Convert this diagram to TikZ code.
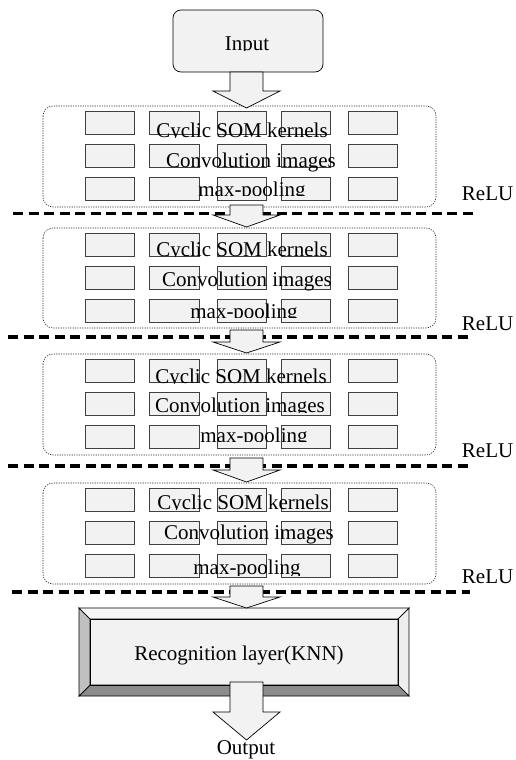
\documentclass[tikz,border=0pt]{standalone}
\usepackage{fontspec}
\setmainfont{Liberation Serif}
\definecolor{lg}{HTML}{F2F2F2}
\definecolor{bevtop}{HTML}{F7F7F7}
\definecolor{bevright}{HTML}{EEEEEE}
\definecolor{bevbot}{HTML}{8C8C8C}
\definecolor{bevleft}{HTML}{C0C0C0}
\tikzset{
  cell/.style={draw=black!75, fill=lg, line width=0.8pt},
  layerbox/.style={draw=black!85, line width=0.6pt, dash pattern=on 1.2pt off 1.2pt, rounded corners=10pt},
  relusep/.style={line width=3.3pt, dash pattern=on 10pt off 5.5pt},
  barrow/.style={draw=black, fill=lg, line width=0.7pt, line join=miter},
  lbl/.style={font=\fontsize{21}{25}\selectfont, inner sep=0pt, anchor=base},
  bev/.style={draw=black, line width=0.7pt, line join=miter},
}
\newcommand\cellrow[1]{%
  \foreach \xa/\xb in {85/134,149/199,217/266,281/330,348/397}{
    \draw[cell] (\xa,#1) rectangle (\xb,#1+23);
  }}
\newcommand\cellblock[1]{\cellrow{#1+5.5}\cellrow{#1+38.5}\cellrow{#1+71.5}}
\newcommand\barr[3]{%
  \draw[barrow] (230,#1) -- (263,#1) -- (263,#2) -- (280,#2) -- (246.5,#3) -- (213,#2) -- (230,#2) -- cycle;}
\newcommand\cliplbl[5]{% name, x, baseline, clip y, text
  \begin{scope}
    \clip (0,0) rectangle (515,#4);
    \node[lbl] (#1) at (#2,#3) {#5};
  \end{scope}}
\begin{document}
\begin{tikzpicture}[x=1pt,y=-1pt]
\useasboundingbox (0,0) rectangle (515,760);

% Input
\draw[draw=black, fill=lg, line width=0.7pt, rounded corners=8pt] (173,10) rectangle (323,72);
\cliplbl{inp}{247}{51}{51}{Input}

% layer boxes
\draw[layerbox] (43,106) rectangle (436,207);
\draw[layerbox] (43,228) rectangle (436,328);
\draw[layerbox] (43,354) rectangle (436,455);
\draw[layerbox] (43,483) rectangle (436,584);

\cellblock{106}
\cellblock{228}
\cellblock{354}
\cellblock{483}

% block 1 texts
\cliplbl{k1}{242}{137}{137}{Cyclic SOM kernels}
\cliplbl{c1}{251}{167}{760}{Convolution images}
\cliplbl{m1}{252}{196}{195}{max-pooling}
% block 2
\cliplbl{k2}{242}{256}{256}{Cyclic SOM kernels}
\cliplbl{c2}{247}{286}{760}{Convolution images}
\cliplbl{m2}{244}{318}{317}{max-pooling}
% block 3
\cliplbl{k3}{241}{383}{383}{Cyclic SOM kernels}
\cliplbl{c3}{240}{412}{412}{Convolution images}
\cliplbl{m3}{254}{442}{441}{max-pooling}
% block 4
\cliplbl{k4}{243}{509}{509}{Cyclic SOM kernels}
\cliplbl{c4}{249}{539}{760}{Convolution images}
\cliplbl{m4}{247}{574}{575}{max-pooling}

% ReLU labels
\node[lbl, anchor=base east] (r1) at (513.5,200) {ReLU};
\node[lbl, anchor=base east] (r2) at (513.5,330) {ReLU};
\node[lbl, anchor=base east] (r3) at (513.5,457) {ReLU};
\node[lbl, anchor=base east] (r4) at (513.5,583) {ReLU};

% separators
\draw[relusep] (13,213.5) -- (473,213.5);
\draw[relusep] (8,337) -- (468,337);
\draw[relusep] (8,466) -- (468,466);
\draw[relusep] (12,592) -- (470,592);

% recognition layer
\fill[lg] (90,619) rectangle (398,685);
\filldraw[bev, fill=bevtop] (79,608) -- (409,608) -- (398,619) -- (90,619) -- cycle;
\filldraw[bev, fill=bevright] (409,608) -- (409,696) -- (398,685) -- (398,619) -- cycle;
\filldraw[bev, fill=bevbot] (79,696) -- (409,696) -- (398,685) -- (90,685) -- cycle;
\filldraw[bev, fill=bevleft] (79,608) -- (90,619) -- (90,685) -- (79,696) -- cycle;
\draw[bev] (90,619) rectangle (398,685);
\node[lbl] (rec) at (239,660) {Recognition layer(KNN)};

% block arrows
\barr{72}{91}{108}
\barr{205}{215}{227}
\barr{330}{342}{353}
\barr{458}{470}{482}
\barr{586}{597}{608}
\barr{682}{712}{740}

\node[lbl] (out) at (246,754.5) {Output};
\end{tikzpicture}
\end{document}
